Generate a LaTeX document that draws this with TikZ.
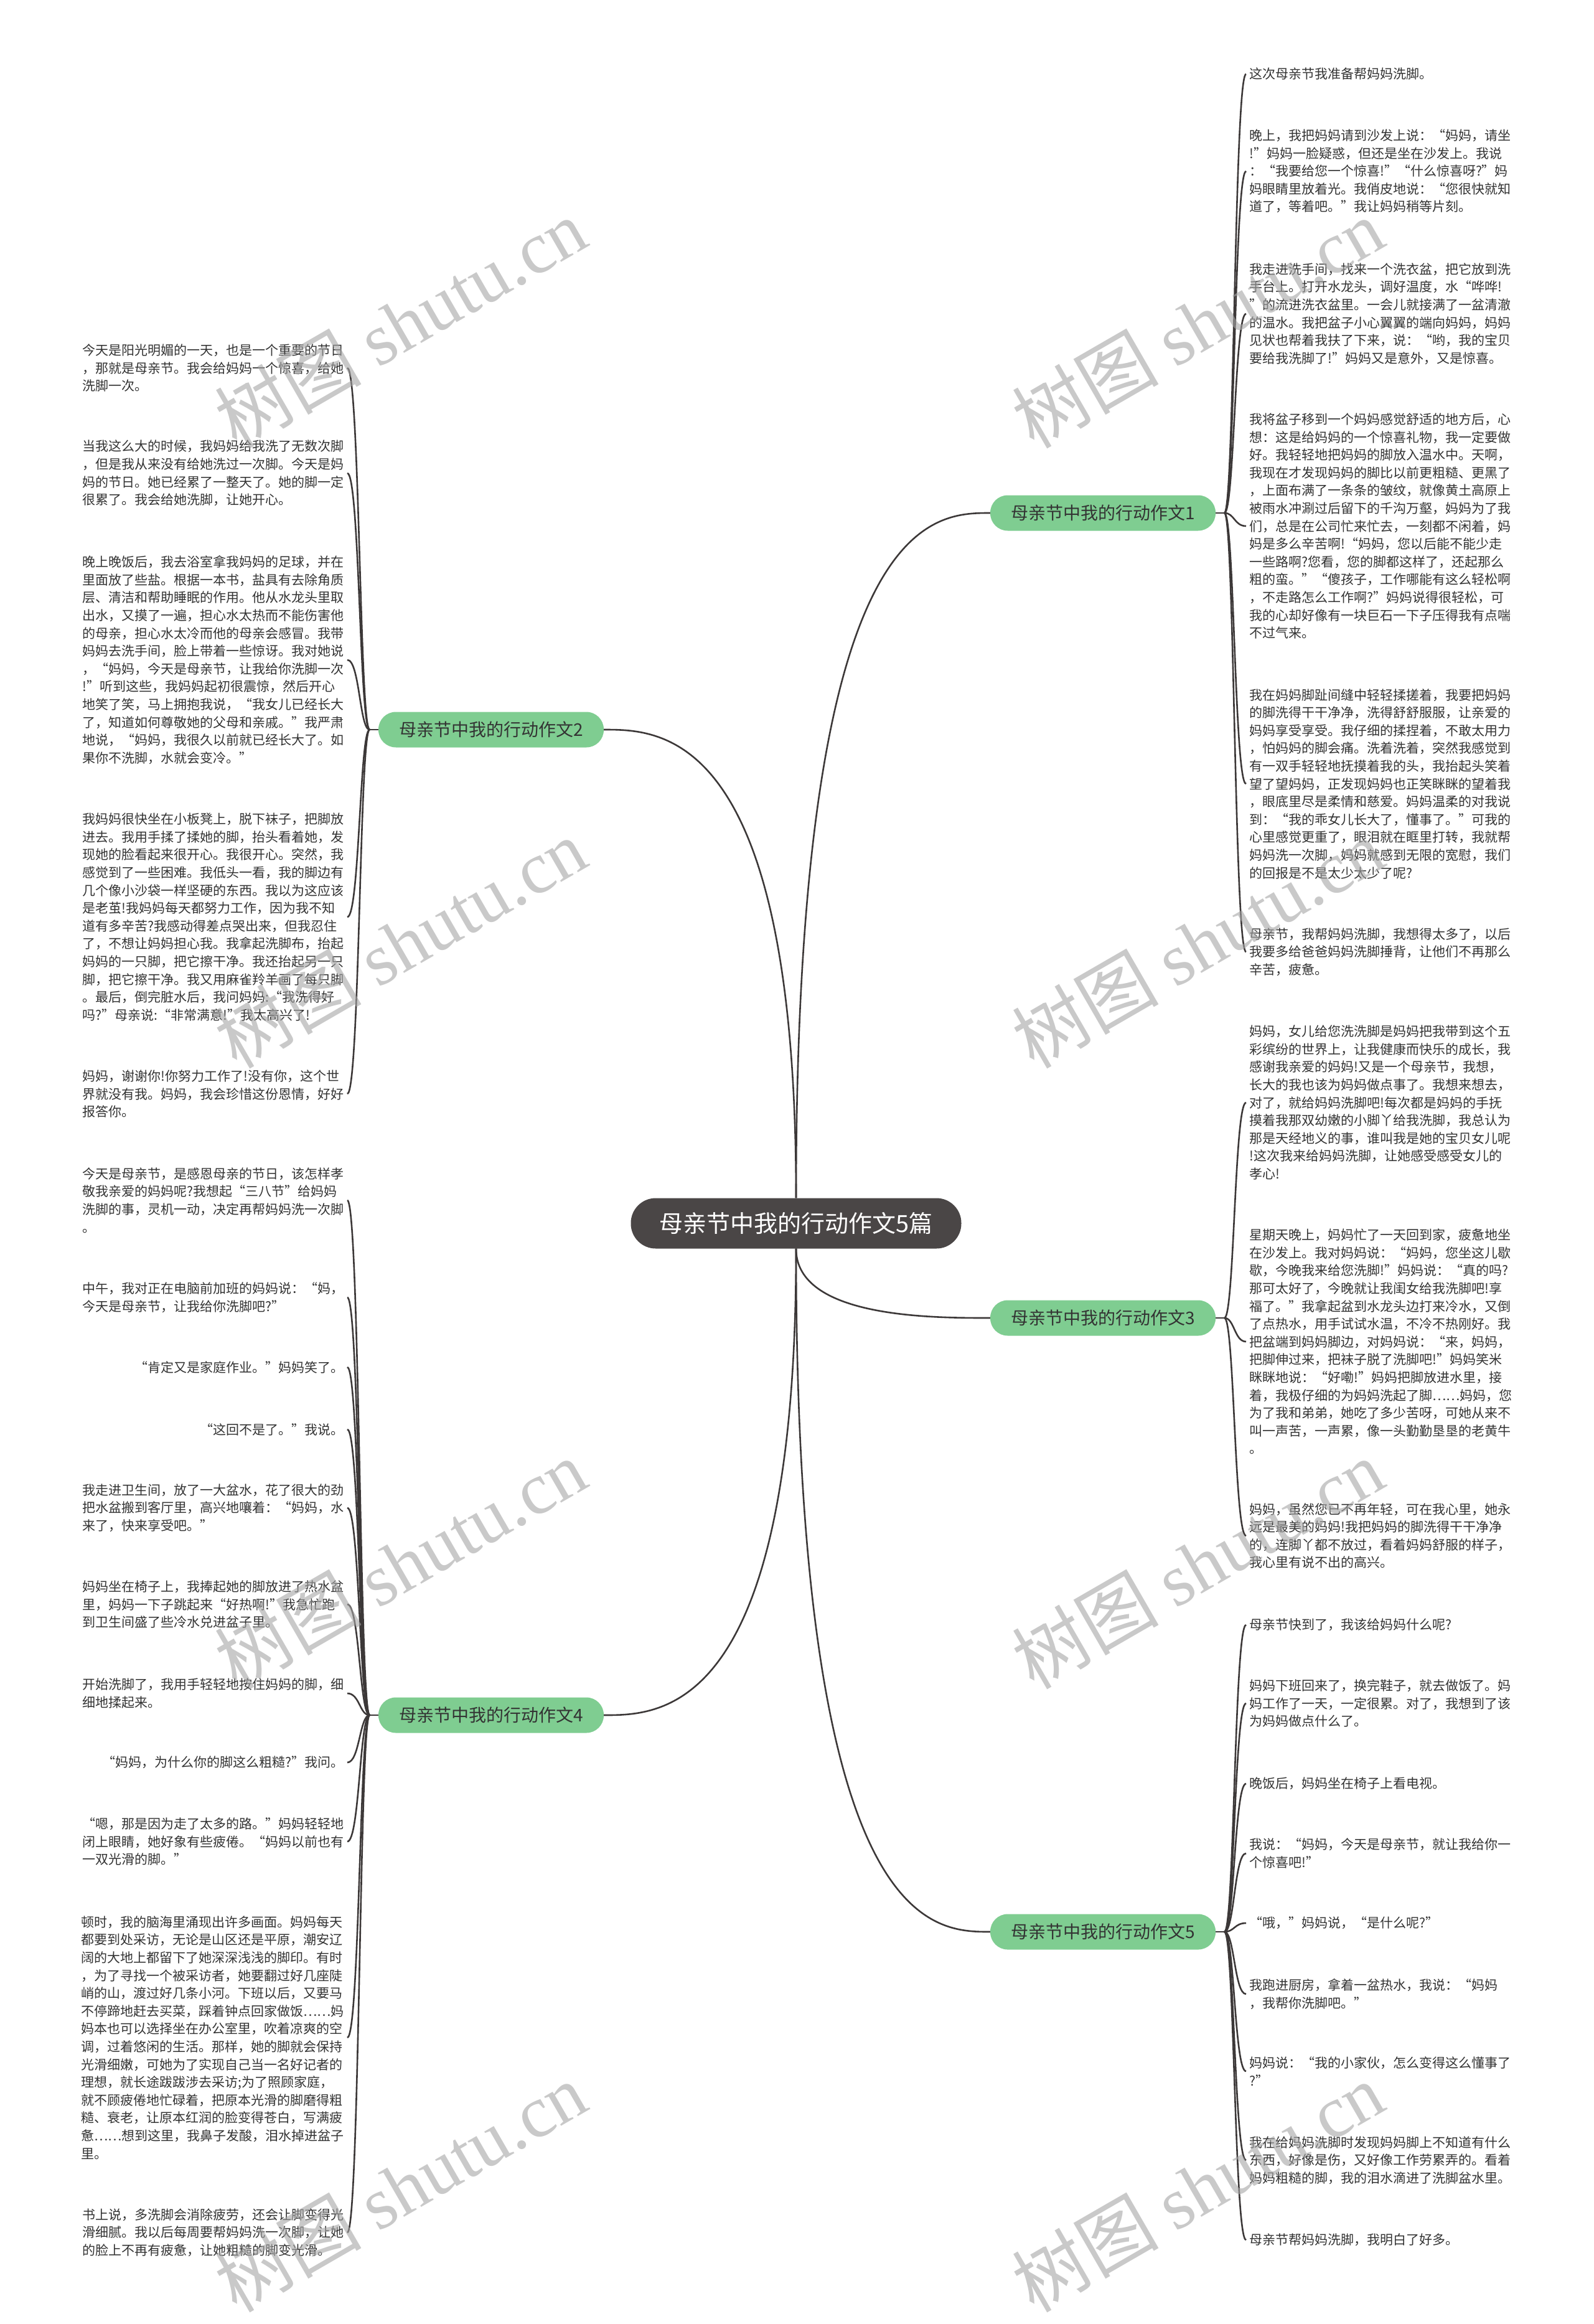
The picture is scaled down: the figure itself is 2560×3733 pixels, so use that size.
\documentclass[tikz,border=0pt]{standalone}
\usepackage{fontspec}
\setmainfont{Noto Sans CJK SC}
\newfontfamily\cjk{Noto Sans CJK SC}
\newfontfamily\wmfont{Liberation Serif}
\usetikzlibrary{calc}
\definecolor{linec}{RGB}{60,56,56}
\definecolor{pillc}{RGB}{127,205,145}
\definecolor{rootc}{RGB}{74,70,70}
\definecolor{txtc}{RGB}{51,51,51}
\definecolor{wmc}{RGB}{165,165,165}
\begin{document}
\begin{tikzpicture}[x=1pt,y=-1pt,
 conn/.style={draw=linec, line width=2.6pt},
 rootbox/.style={fill=rootc, rounded corners=40pt, minimum width=531pt, minimum height=81pt, text=white, font=\cjk\fontsize{38}{44}\selectfont, inner sep=0pt},
 pill/.style={fill=pillc, rounded corners=28pt, minimum width=362pt, minimum height=57pt, text=txtc, font=\cjk\fontsize{28}{32}\selectfont, inner sep=0pt},
 rleaf/.style={anchor=west, align=left, text=txtc, font=\cjk\fontsize{21}{28.6}\selectfont, inner xsep=5pt, inner ysep=2pt},
 lleaf/.style={rleaf, anchor=east},
 wm/.style={rotate=30, text=wmc, opacity=0.6, font=\fontsize{118}{120}\selectfont}
]
\fill[white] (0,0) rectangle (2560,3733);
\useasboundingbox (0,0) rectangle (2560,3733);

% root and branches
\node[rootbox] (root) at (1279,1965) {母亲节中我的行动作文5篇};
\node[pill] (b1) at (1772,824) {母亲节中我的行动作文1};
\node[pill] (b2) at (789,1172) {母亲节中我的行动作文2};
\node[pill] (b3) at (1772,2117) {母亲节中我的行动作文3};
\node[pill] (b4) at (789,2755) {母亲节中我的行动作文4};
\node[pill] (b5) at (1772,3103) {母亲节中我的行动作文5};

% right leaves, branch 1
\node[rleaf] (r1a) at (2002,119) {这次母亲节我准备帮妈妈洗脚。};
\node[rleaf] (r1b) at (2002,275) {晚上，我把妈妈请到沙发上说：“妈妈，请坐\\!”妈妈一脸疑惑，但还是坐在沙发上。我说\\：“我要给您一个惊喜!”“什么惊喜呀?”妈\\妈眼睛里放着光。我俏皮地说：“您很快就知\\道了，等着吧。”我让妈妈稍等片刻。};
\node[rleaf] (r1c) at (2002,504) {我走进洗手间，找来一个洗衣盆，把它放到洗\\手台上。打开水龙头，调好温度，水“哗哗!\\”的流进洗衣盆里。一会儿就接满了一盆清澈\\的温水。我把盆子小心翼翼的端向妈妈，妈妈\\见状也帮着我扶了下来，说：“哟，我的宝贝\\要给我洗脚了!”妈妈又是意外，又是惊喜。};
\node[rleaf] (r1d) at (2002,845) {我将盆子移到一个妈妈感觉舒适的地方后，心\\想：这是给妈妈的一个惊喜礼物，我一定要做\\好。我轻轻地把妈妈的脚放入温水中。天啊，\\我现在才发现妈妈的脚比以前更粗糙、更黑了\\，上面布满了一条条的皱纹，就像黄土高原上\\被雨水冲涮过后留下的千沟万壑，妈妈为了我\\们，总是在公司忙来忙去，一刻都不闲着，妈\\妈是多么辛苦啊!“妈妈，您以后能不能少走\\一些路啊?您看，您的脚都这样了，还起那么\\粗的蛮。”“傻孩子，工作哪能有这么轻松啊\\，不走路怎么工作啊?”妈妈说得很轻松，可\\我的心却好像有一块巨石一下子压得我有点喘\\不过气来。};
\node[rleaf] (r1e) at (2002,1259) {我在妈妈脚趾间缝中轻轻揉搓着，我要把妈妈\\的脚洗得干干净净，洗得舒舒服服，让亲爱的\\妈妈享受享受。我仔细的揉捏着，不敢太用力\\，怕妈妈的脚会痛。洗着洗着，突然我感觉到\\有一双手轻轻地抚摸着我的头，我抬起头笑着\\望了望妈妈，正发现妈妈也正笑眯眯的望着我\\，眼底里尽是柔情和慈爱。妈妈温柔的对我说\\到：“我的乖女儿长大了，懂事了。”可我的\\心里感觉更重了，眼泪就在眶里打转，我就帮\\妈妈洗一次脚，妈妈就感到无限的宽慰，我们\\的回报是不是太少太少了呢?};
\node[rleaf] (r1f) at (2002,1529) {母亲节，我帮妈妈洗脚，我想得太多了，以后\\我要多给爸爸妈妈洗脚捶背，让他们不再那么\\辛苦，疲惫。};

% right leaves, branch 3
\node[rleaf] (r3a) at (2002,1771) {妈妈，女儿给您洗洗脚是妈妈把我带到这个五\\彩缤纷的世界上，让我健康而快乐的成长，我\\感谢我亲爱的妈妈!又是一个母亲节，我想，\\长大的我也该为妈妈做点事了。我想来想去，\\对了，就给妈妈洗脚吧!每次都是妈妈的手抚\\摸着我那双幼嫩的小脚丫给我洗脚，我总认为\\那是天经地义的事，谁叫我是她的宝贝女儿呢\\!这次我来给妈妈洗脚，让她感受感受女儿的\\孝心!};
\node[rleaf] (r3b) at (2002,2155) {星期天晚上，妈妈忙了一天回到家，疲惫地坐\\在沙发上。我对妈妈说：“妈妈，您坐这儿歇\\歇，今晚我来给您洗脚!”妈妈说：“真的吗?\\那可太好了，今晚就让我闺女给我洗脚吧!享\\福了。”我拿起盆到水龙头边打来冷水，又倒\\了点热水，用手试试水温，不冷不热刚好。我\\把盆端到妈妈脚边，对妈妈说：“来，妈妈，\\把脚伸过来，把袜子脱了洗脚吧!”妈妈笑米\\眯眯地说：“好嘞!”妈妈把脚放进水里，接\\着，我极仔细的为妈妈洗起了脚……妈妈，您\\为了我和弟弟，她吃了多少苦呀，可她从来不\\叫一声苦，一声累，像一头勤勤垦垦的老黄牛\\。};
\node[rleaf] (r3c) at (2002,2467) {妈妈，虽然您已不再年轻，可在我心里，她永\\远是最美的妈妈!我把妈妈的脚洗得干干净净\\的，连脚丫都不放过，看着妈妈舒服的样子，\\我心里有说不出的高兴。};

% right leaves, branch 5
\node[rleaf] (r5a) at (2002,2610) {母亲节快到了，我该给妈妈什么呢?};
\node[rleaf] (r5b) at (2002,2736) {妈妈下班回来了，换完鞋子，就去做饭了。妈\\妈工作了一天，一定很累。对了，我想到了该\\为妈妈做点什么了。};
\node[rleaf] (r5c) at (2002,2865) {晚饭后，妈妈坐在椅子上看电视。};
\node[rleaf] (r5d) at (2002,2977) {我说：“妈妈，今天是母亲节，就让我给你一\\个惊喜吧!”};
\node[rleaf] (r5e) at (2002,3089) {“哦，”妈妈说，“是什么呢?”};
\node[rleaf] (r5f) at (2002,3203) {我跑进厨房，拿着一盆热水，我说：“妈妈\\，我帮你洗脚吧。”};
\node[rleaf] (r5g) at (2002,3327) {妈妈说：“我的小家伙，怎么变得这么懂事了\\?”};
\node[rleaf] (r5h) at (2002,3470) {我在给妈妈洗脚时发现妈妈脚上不知道有什么\\东西，好像是伤，又好像工作劳累弄的。看着\\妈妈粗糙的脚，我的泪水滴进了洗脚盆水里。};
\node[rleaf] (r5i) at (2002,3598) {母亲节帮妈妈洗脚，我明白了好多。};

% left leaves, branch 2
\node[lleaf] (l2a) at (558,591) {今天是阳光明媚的一天，也是一个重要的节日\\，那就是母亲节。我会给妈妈一个惊喜，给她\\洗脚一次。};
\node[lleaf] (l2b) at (558,760) {当我这么大的时候，我妈妈给我洗了无数次脚\\，但是我从来没有给她洗过一次脚。今天是妈\\妈的节日。她已经累了一整天了。她的脚一定\\很累了。我会给她洗脚，让她开心。};
\node[lleaf] (l2c) at (558,1060) {晚上晚饭后，我去浴室拿我妈妈的足球，并在\\里面放了些盐。根据一本书，盐具有去除角质\\层、清洁和帮助睡眠的作用。他从水龙头里取\\出水，又摸了一遍，担心水太热而不能伤害他\\的母亲，担心水太冷而他的母亲会感冒。我带\\妈妈去洗手间，脸上带着一些惊讶。我对她说\\，“妈妈，今天是母亲节，让我给你洗脚一次\\!”听到这些，我妈妈起初很震惊，然后开心\\地笑了笑，马上拥抱我说，“我女儿已经长大\\了，知道如何尊敬她的父母和亲戚。”我严肃\\地说，“妈妈，我很久以前就已经长大了。如\\果你不洗脚，水就会变冷。”};
\node[lleaf] (l2d) at (558,1473) {我妈妈很快坐在小板凳上，脱下袜子，把脚放\\进去。我用手揉了揉她的脚，抬头看着她，发\\现她的脸看起来很开心。我很开心。突然，我\\感觉到了一些困难。我低头一看，我的脚边有\\几个像小沙袋一样坚硬的东西。我以为这应该\\是老茧!我妈妈每天都努力工作，因为我不知\\道有多辛苦?我感动得差点哭出来，但我忍住\\了，不想让妈妈担心我。我拿起洗脚布，抬起\\妈妈的一只脚，把它擦干净。我还抬起另一只\\脚，把它擦干净。我又用麻雀羚羊画了每只脚\\。最后，倒完脏水后，我问妈妈:“我洗得好\\吗?”母亲说:“非常满意!”我太高兴了!};
\node[lleaf] (l2e) at (558,1757) {妈妈，谢谢你!你努力工作了!没有你，这个世\\界就没有我。妈妈，我会珍惜这份恩情，好好\\报答你。};

% left leaves, branch 4
\node[lleaf] (l4a) at (558,1928) {今天是母亲节，是感恩母亲的节日，该怎样孝\\敬我亲爱的妈妈呢?我想起“三八节”给妈妈\\洗脚的事，灵机一动，决定再帮妈妈洗一次脚\\。};
\node[lleaf] (l4b) at (558,2084) {中午，我对正在电脑前加班的妈妈说：“妈，\\今天是母亲节，让我给你洗脚吧?”};
\node[lleaf] (l4c) at (558,2196) {“肯定又是家庭作业。”妈妈笑了。};
\node[lleaf] (l4d) at (558,2296) {“这回不是了。”我说。};
\node[lleaf] (l4e) at (558,2422) {我走进卫生间，放了一大盆水，花了很大的劲\\把水盆搬到客厅里，高兴地嚷着：“妈妈，水\\来了，快来享受吧。”};
\node[lleaf] (l4f) at (558,2577) {妈妈坐在椅子上，我捧起她的脚放进了热水盆\\里，妈妈一下子跳起来“好热啊!”我急忙跑\\到卫生间盛了些冷水兑进盆子里。};
\node[lleaf] (l4g) at (558,2720) {开始洗脚了，我用手轻轻地按住妈妈的脚，细\\细地揉起来。};
\node[lleaf] (l4h) at (558,2831) {“妈妈，为什么你的脚这么粗糙?”我问。};
\node[lleaf] (l4i) at (558,2958) {“嗯，那是因为走了太多的路。”妈妈轻轻地\\闭上眼睛，她好象有些疲倦。“妈妈以前也有\\一双光滑的脚。”};
\node[lleaf] (l4j) at (558,3273) {顿时，我的脑海里涌现出许多画面。妈妈每天\\都要到处采访，无论是山区还是平原，潮安辽\\阔的大地上都留下了她深深浅浅的脚印。有时\\，为了寻找一个被采访者，她要翻过好几座陡\\峭的山，渡过好几条小河。下班以后，又要马\\不停蹄地赶去买菜，踩着钟点回家做饭……妈\\妈本也可以选择坐在办公室里，吹着凉爽的空\\调，过着悠闲的生活。那样，她的脚就会保持\\光滑细嫩，可她为了实现自己当一名好记者的\\理想，就长途跋跋涉去采访;为了照顾家庭，\\就不顾疲倦地忙碌着，把原本光滑的脚磨得粗\\糙、衰老，让原本红润的脸变得苍白，写满疲\\惫……想到这里，我鼻子发酸，泪水掉进盆子\\里。};
\node[lleaf] (l4k) at (558,3586) {书上说，多洗脚会消除疲劳，还会让脚变得光\\滑细腻。我以后每周要帮妈妈洗一次脚，让她\\的脸上不再有疲惫，让她粗糙的脚变光滑。};

% root to branches
\draw[conn] (root.north) .. controls (root.north |- b1.west) and ($(root.north |- b1.west)!0.7!(b1.west)$) .. (b1.west);
\draw[conn] (root.north) .. controls (root.north |- b2.east) and ($(root.north |- b2.east)!0.7!(b2.east)$) .. (b2.east);
\draw[conn] (root.south) .. controls (root.south |- b3.west) and ($(root.south |- b3.west)!0.7!(b3.west)$) .. (b3.west);
\draw[conn] (root.south) .. controls (root.south |- b4.east) and ($(root.south |- b4.east)!0.7!(b4.east)$) .. (b4.east);
\draw[conn] (root.south) .. controls (root.south |- b5.west) and ($(root.south |- b5.west)!0.7!(b5.west)$) .. (b5.west);

% forks
\coordinate (f1) at ($(b1.east)+(14,0)$);
\coordinate (f3) at ($(b3.east)+(14,0)$);
\coordinate (f5) at ($(b5.east)+(14,0)$);
\coordinate (f2) at ($(b2.west)+(-14,0)$);
\coordinate (f4) at ($(b4.west)+(-14,0)$);
\draw[conn] (b1.east) -- (f1);
\draw[conn] (b3.east) -- (f3);
\draw[conn] (b5.east) -- (f5);
\draw[conn] (b2.west) -- (f2);
\draw[conn] (b4.west) -- (f4);

\foreach \n in {r1a,r1b,r1c,r1d,r1e,r1f}
  \draw[conn] (f1) .. controls ($(f1)+(16,0)$) and ($(f1 |- \n.west)+(16,0)$) .. (\n.west);
\foreach \n in {r3a,r3b,r3c}
  \draw[conn] (f3) .. controls ($(f3)+(16,0)$) and ($(f3 |- \n.west)+(16,0)$) .. (\n.west);
\foreach \n in {r5a,r5b,r5c,r5d,r5e,r5f,r5g,r5h,r5i}
  \draw[conn] (f5) .. controls ($(f5)+(16,0)$) and ($(f5 |- \n.west)+(16,0)$) .. (\n.west);
\foreach \n in {l2a,l2b,l2c,l2d,l2e}
  \draw[conn] (f2) .. controls ($(f2)+(-16,0)$) and ($(f2 |- \n.east)+(-16,0)$) .. (\n.east);
\foreach \n in {l4a,l4b,l4c,l4d,l4e,l4f,l4g,l4h,l4i,l4j,l4k}
  \draw[conn] (f4) .. controls ($(f4)+(-16,0)$) and ($(f4 |- \n.east)+(-16,0)$) .. (\n.east);

% watermarks
\foreach \wx/\wy [count=\i] in {643/519,1924/519,643/1515,1924/1515,643/2512,1924/2512,643/3513,1924/3513}
  \node[wm] (wm\i) at (\wx,\wy) {\cjk 树图 \wmfont shutu.cn};
\end{tikzpicture}
\end{document}
